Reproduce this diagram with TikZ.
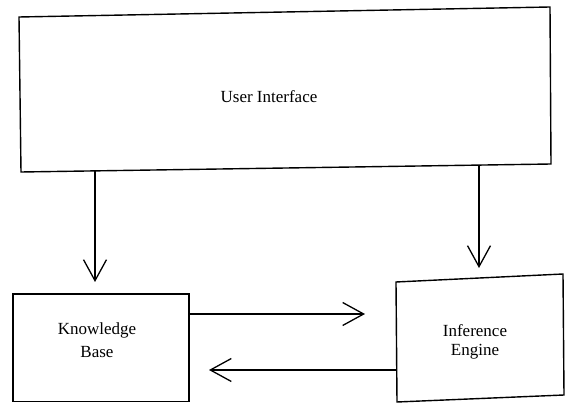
\documentclass[tikz,border=0pt]{standalone}
\usepackage{fontspec}
\setmainfont{Liberation Serif}
\usetikzlibrary{arrows.meta}
\begin{document}
\begin{tikzpicture}[x=1pt,y=-1pt,
  boxline/.style={line width=1.4pt, line join=miter},
  flow/.style={line width=1.3pt, -{Straight Barb[length=21pt,width=23pt,line width=1.3pt]}},
  lbl/.style={inner sep=0pt, anchor=base, font=\fontsize{17}{21}\selectfont}]
\useasboundingbox (0,0) rectangle (571,403);
% User Interface box
\coordinate (uiTL) at (19,17);
\coordinate (uiTR) at (550,7);
\coordinate (uiBR) at (551,164);
\coordinate (uiBL) at (21,172);
\draw[boxline] (uiTL) -- (uiTR) -- (uiBR) -- (uiBL) -- cycle;
\node[lbl] (ui) at (269,103) {User Interface};
% Knowledge Base box
\coordinate (kbTL) at (13,294);
\coordinate (kbTR) at (189,294);
\coordinate (kbBR) at (189,401.5);
\coordinate (kbBL) at (13,401.5);
\draw[boxline] (kbTL) -- (kbTR) -- (kbBR) -- (kbBL) -- cycle;
\node[lbl] (kb) at (97,335) {\fontsize{17}{23}\selectfont\begin{tabular}[t]{@{}c@{}}Knowledge\\Base\end{tabular}};
% Inference Engine box
\coordinate (ieTL) at (396,282);
\coordinate (ieTR) at (563,274);
\coordinate (ieBR) at (564,395);
\coordinate (ieBL) at (397,402);
\draw[boxline] (ieTL) -- (ieTR) -- (ieBR) -- (ieBL) -- cycle;
\node[lbl] (ie) at (475,337) {\fontsize{17}{19}\selectfont\begin{tabular}[t]{@{}c@{}}Inference\\Engine\end{tabular}};
% connector end points
\coordinate (uiOutL) at (95,171.5);
\coordinate (kbIn) at (95,282);
\coordinate (uiOutR) at (479,165);
\coordinate (ieIn) at (479,268);
\coordinate (kbOut) at (189,314);
\coordinate (ieInL) at (365,314);
\coordinate (ieOut) at (396,370);
\coordinate (kbInR) at (209,370);
\draw[flow] (uiOutL) -- (kbIn);
\draw[flow] (uiOutR) -- (ieIn);
\draw[flow] (kbOut) -- (ieInL);
\draw[flow] (ieOut) -- (kbInR);
\end{tikzpicture}
\end{document}
